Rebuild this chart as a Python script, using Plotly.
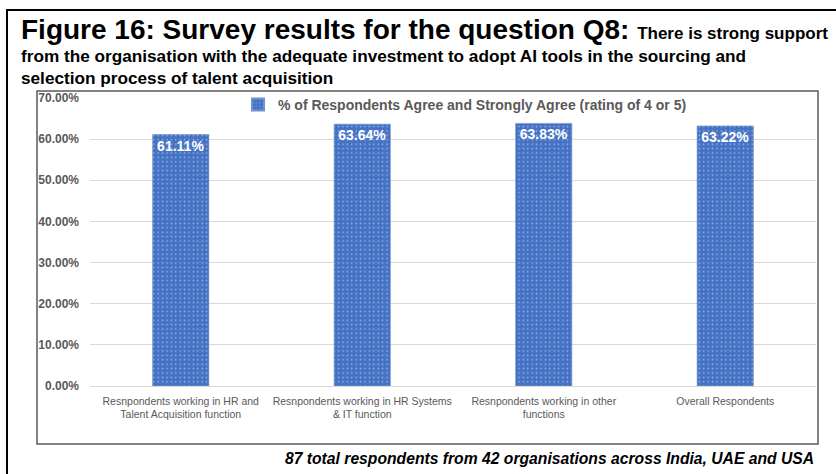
import plotly.graph_objects as go

# Survey data
categories = [
    "Resnpondents working in HR and<br>Talent Acquisition function",
    "Resnpondents working in HR Systems<br>& IT function",
    "Resnpondents working in other<br>functions",
    "Overall Respondents",
]
agree_share = [0.6111, 0.6364, 0.6383, 0.6322]
series_name = "% of Respondents Agree and Strongly Agree (rating of 4 or 5)"
y_ticks = [0.0, 0.1, 0.2, 0.3, 0.4, 0.5, 0.6, 0.7]

W, H = 836, 474
L, R, T, B = 90, 20, 98, 88
PW, PH = W - L - R, H - T - B


def px_x(x):
    return (x - L) / PW


def px_y(y):
    return (H - B - y) / PH


BLUE = "#4472C4"
GREY = "#595959"
FONT = "Liberation Sans, Arial, sans-serif"

fig = go.Figure()
fig.add_trace(go.Bar(
    x=categories,
    y=agree_share,
    name=series_name,
    marker=dict(
        color=BLUE,
        line=dict(color="#6F8FD0", width=0.6),
        pattern=dict(shape=".", fgcolor="white", bgcolor=BLUE,
                     size=4.4, solidity=0.1, fillmode="overlay"),
    ),
    text=[f"{v * 100:.2f}%" for v in agree_share],
    textposition="inside",
    insidetextanchor="end",
    textangle=0,
    textfont=dict(family=FONT, size=14, color="white", weight="bold"),
    showlegend=True,
))

fig.update_layout(
    width=W, height=H,
    margin=dict(l=L, r=R, t=T, b=B, pad=0),
    paper_bgcolor="white",
    plot_bgcolor="white",
    font=dict(family=FONT, color=GREY),
    bargap=0.69,
    showlegend=True,
    legend=dict(
        orientation="h",
        x=px_x(238), y=px_y(105), xanchor="left", yanchor="middle",
        bgcolor="rgba(0,0,0,0)",
        font=dict(family=FONT, size=14, color=GREY, weight="bold"),
        itemsizing="constant",
    ),
    xaxis=dict(
        showgrid=False, showline=False, ticks="",
        tickfont=dict(family=FONT, size=10.5, color=GREY),
        ticklabelstandoff=7,
    ),
    yaxis=dict(
        range=[0, 0.7],
        tickvals=y_ticks,
        tickformat=".2%",
        showgrid=True, gridcolor="#D9D9D9", gridwidth=1,
        zeroline=True, zerolinecolor="#D9D9D9", zerolinewidth=1,
        showline=False, ticks="",
        tickfont=dict(family=FONT, size=12, color=GREY, weight="bold"),
        ticklabelstandoff=10,
    ),
)

# Frame around the chart area and the outer frame around the whole figure
fig.add_shape(type="rect", xref="paper", yref="paper",
              x0=px_x(37), x1=px_x(818), y0=px_y(444), y1=px_y(91),
              line=dict(color="#5A5A5A", width=1.5), layer="below")
fig.add_shape(type="rect", xref="paper", yref="paper",
              x0=px_x(7), x1=px_x(850), y0=px_y(490), y1=px_y(10),
              line=dict(color="black", width=2), layer="below")

title_font = dict(family=FONT, color="black")
fig.add_annotation(
    xref="paper", yref="paper", x=px_x(19), y=px_y(29),
    xanchor="left", yanchor="middle", showarrow=False,
    text="<b>Figure 16: Survey results for the question Q8: </b>"
         "<b><span style='font-size:17px'>There is strong support</span></b>",
    font=dict(size=28, **title_font),
)
fig.add_annotation(
    xref="paper", yref="paper", x=px_x(19), y=px_y(67),
    xanchor="left", yanchor="middle", align="left", showarrow=False,
    text="<b>from the organisation with the adequate investment to adopt AI tools in the sourcing and"
         "<br>selection process of talent acquisition</b>",
    font=dict(size=17.2, **title_font),
)
fig.add_annotation(
    xref="paper", yref="paper", x=px_x(816), y=px_y(458),
    xanchor="right", yanchor="middle", showarrow=False,
    text="<b><i>87 total respondents from 42 organisations across India, UAE and USA</i></b>",
    font=dict(size=15.7, **title_font),
)

fig.write_html("out.html")
